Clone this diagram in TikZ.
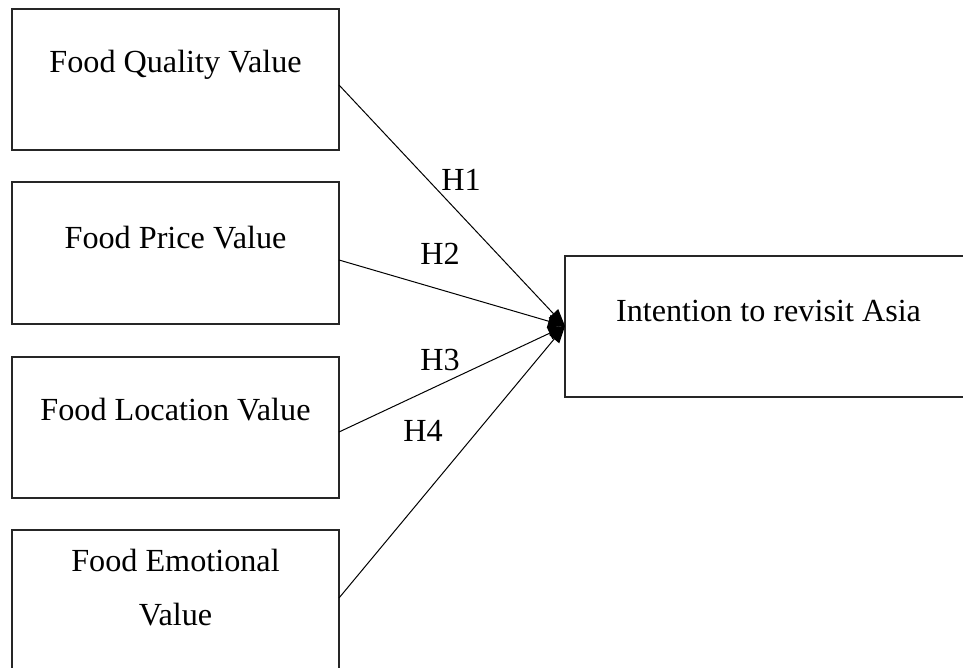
\documentclass[tikz,border=0pt]{standalone}
\usepackage{fontspec}
\setmainfont{Liberation Serif}
\usetikzlibrary{arrows.meta}
\begin{document}
\begin{tikzpicture}[x=1pt,y=-1pt,
  box/.style={draw=black!85, line width=1.1pt, inner sep=0pt},
  lbl/.style={anchor=base, inner sep=0pt, font=\fontsize{32.2}{54}\selectfont},
  link/.style={line width=1pt, -{Triangle[length=17pt,width=13pt]}}]
\useasboundingbox (0,0) rectangle (963,668);
% boxes
\node[box, minimum width=327pt, minimum height=141pt] (q) at (175.5,79.5) {};
\node[box, minimum width=327pt, minimum height=142pt] (p) at (175.5,253) {};
\node[box, minimum width=327pt, minimum height=141pt] (l) at (175.5,427.5) {};
\node[box, minimum width=327pt, minimum height=142pt] (e) at (175.5,601) {};
\node[box, minimum width=402pt, minimum height=141pt] (r) at (766,326.5) {};
% texts
\node[lbl] (qt) at (175.5,73) {Food Quality Value};
\node[lbl] (pt) at (175.5,248) {Food Price Value};
\node[lbl] (lt) at (175.5,420) {Food Location Value};
\node[lbl] (et1) at (175.5,571) {Food Emotional};
\node[lbl] (et2) at (175.5,625) {Value};
\node[lbl] (rt) at (768.5,321) {Intention to revisit Asia};
% connectors
\coordinate (s1) at (339,85);
\coordinate (s2) at (339,260);
\coordinate (s3) at (339,432);
\coordinate (s4) at (339,598);
\coordinate (t) at (565,326);
\draw[link] (s1) -- (t);
\draw[link] (s2) -- (t);
\draw[link] (s3) -- (t);
\draw[link] (s4) -- (t);
% labels
\node[lbl] (h1) at (461,191) {H1};
\node[lbl] (h2) at (440,265) {H2};
\node[lbl] (h3) at (440,370) {H3};
\node[lbl] (h4) at (423,441) {H4};
\end{tikzpicture}
\end{document}
